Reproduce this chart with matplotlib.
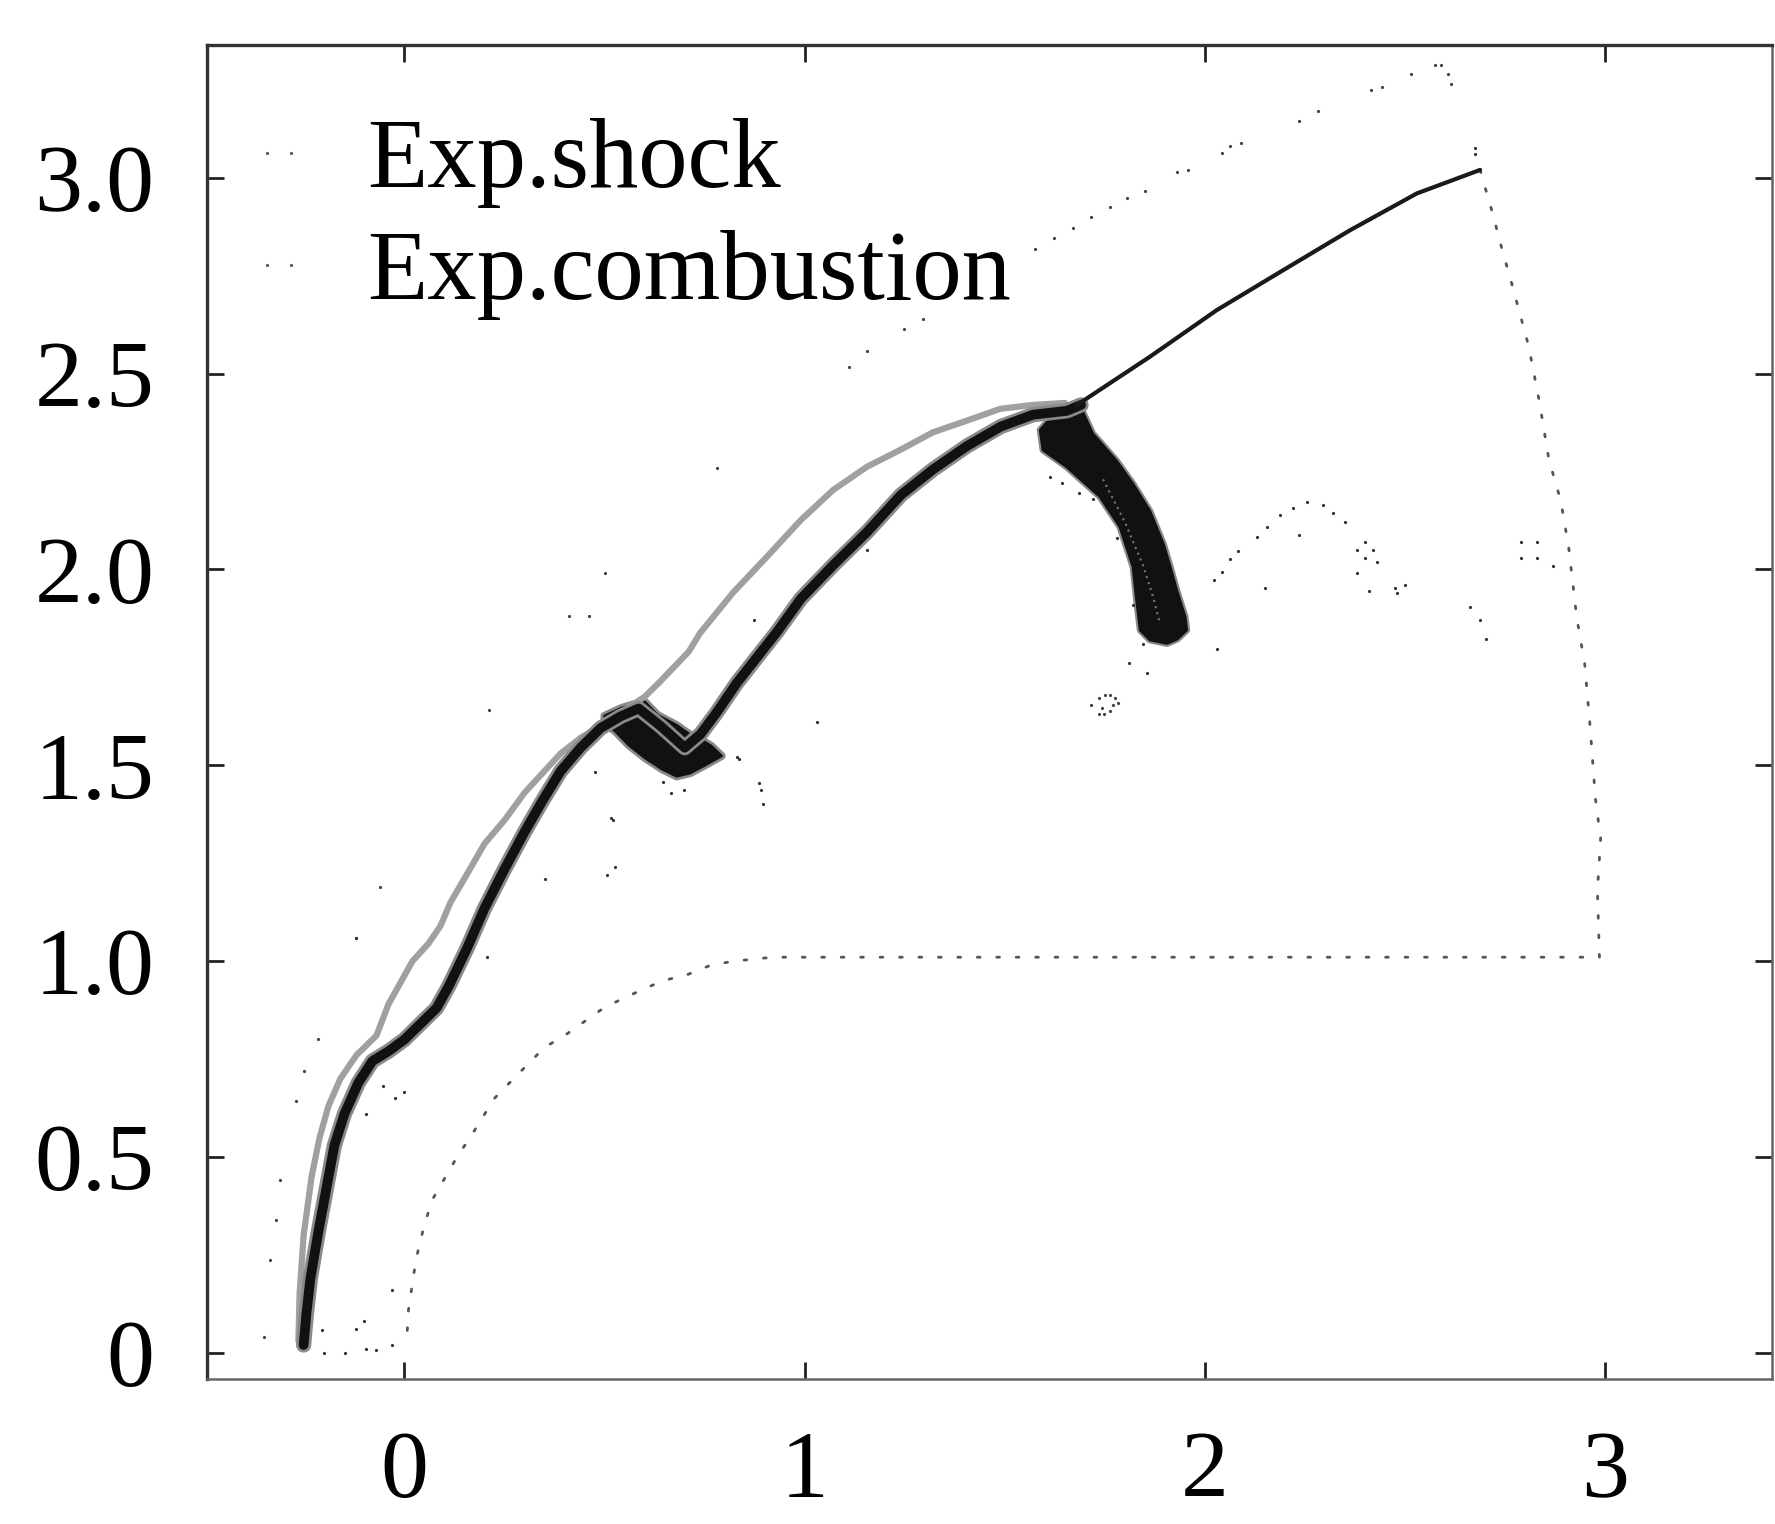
import matplotlib
matplotlib.use("Agg")
import matplotlib.pyplot as plt
from matplotlib.lines import Line2D

# ---------------- data (x, y) ----------------
# main (dark) combustion band, lower-left start to junction with the shock
band_x = [-0.252, -0.245, -0.235, -0.215, -0.195, -0.175, -0.150, -0.115, -0.080, -0.040,
          0.000, 0.040, 0.080, 0.110, 0.155, 0.200, 0.250, 0.300, 0.345, 0.390, 0.440,
          0.490, 0.540, 0.585, 0.640, 0.700, 0.740, 0.780, 0.830, 0.880, 0.930, 0.990,
          1.070, 1.155, 1.240, 1.320, 1.405, 1.490, 1.570, 1.655, 1.690]
band_y = [0.020, 0.100, 0.190, 0.310, 0.420, 0.530, 0.610, 0.690, 0.745, 0.770,
          0.800, 0.840, 0.880, 0.935, 1.030, 1.135, 1.235, 1.330, 1.410, 1.485, 1.545,
          1.595, 1.625, 1.645, 1.600, 1.545, 1.580, 1.635, 1.710, 1.775, 1.840, 1.925,
          2.010, 2.095, 2.190, 2.255, 2.315, 2.365, 2.395, 2.405, 2.420]

# lighter upper strand of the combustion zone
upper_x = [-0.265, -0.262, -0.252, -0.232, -0.212, -0.190, -0.160, -0.120, -0.070, -0.040,
           0.020, 0.060, 0.090, 0.115, 0.155, 0.200, 0.250, 0.300, 0.345, 0.390, 0.440,
           0.490, 0.540, 0.600, 0.635, 0.710, 0.738, 0.820, 0.905, 0.990, 1.071, 1.155,
           1.238, 1.320, 1.405, 1.488, 1.570, 1.650]
upper_y = [0.030, 0.150, 0.300, 0.450, 0.550, 0.630, 0.700, 0.760, 0.810, 0.890,
           1.000, 1.045, 1.090, 1.150, 1.220, 1.300, 1.360, 1.430, 1.480, 1.530, 1.570,
           1.600, 1.635, 1.675, 1.710, 1.790, 1.837, 1.940, 2.032, 2.126, 2.203, 2.262,
           2.305, 2.350, 2.380, 2.410, 2.420, 2.425]

# dense cluster at the first kink
blob_x = [0.500, 0.540, 0.571, 0.600, 0.632, 0.680, 0.713, 0.735, 0.765, 0.792,
          0.750, 0.713, 0.680, 0.644, 0.602, 0.560, 0.526, 0.500]
blob_y = [1.626, 1.645, 1.655, 1.662, 1.628, 1.602, 1.578, 1.568, 1.550, 1.524,
          1.500, 1.480, 1.472, 1.490, 1.518, 1.552, 1.588, 1.606]

# descending combustion arm (outer edge down, inner edge back up)
arm_x = [1.688, 1.719, 1.778, 1.820, 1.862, 1.896, 1.913, 1.929, 1.950, 1.954, 1.930,
         1.905, 1.862, 1.838, 1.829, 1.820, 1.787, 1.737, 1.654, 1.595, 1.588, 1.630]
arm_y = [2.416, 2.347, 2.278, 2.218, 2.149, 2.064, 2.006, 1.947, 1.879, 1.845, 1.822,
         1.811, 1.820, 1.845, 1.920, 2.006, 2.109, 2.186, 2.262, 2.305, 2.356, 2.405]
arm_gap_x = [1.745, 1.800, 1.845, 1.870, 1.885]
arm_gap_y = [2.230, 2.120, 2.010, 1.930, 1.870]

# shock front
shock_x = [1.680, 1.862, 2.029, 2.195, 2.362, 2.529, 2.687]
shock_y = [2.420, 2.543, 2.662, 2.764, 2.866, 2.960, 3.020]

# dotted domain boundary
bound_x = [2.687, 2.700, 2.716, 2.741, 2.768, 2.808, 2.835, 2.859, 2.888, 2.908, 2.928,
           2.948, 2.961, 2.975, 2.988, 2.980, 2.985, 0.920, 0.823, 0.766, 0.708, 0.646,
           0.600, 0.536, 0.490, 0.400, 0.350, 0.263, 0.225, 0.158, 0.137, 0.069, 0.048,
           0.029, 0.010, 0.005]
bound_y = [3.020, 2.973, 2.917, 2.820, 2.722, 2.571, 2.428, 2.279, 2.177, 2.058, 1.879,
           1.760, 1.607, 1.415, 1.313, 1.181, 1.010, 1.010, 1.000, 0.990, 0.966, 0.950,
           0.930, 0.900, 0.875, 0.810, 0.780, 0.690, 0.650, 0.540, 0.510, 0.390, 0.320,
           0.240, 0.110, 0.020]

# sparse outer shock points
outer_x = [-0.350, -0.335, -0.320, -0.310, -0.270, -0.250, -0.215, -0.120, -0.060, 0.210,
           0.410, 0.460, 0.500, 0.780, 1.110, 1.156, 1.249, 1.296, 1.575, 1.623, 1.669,
           1.716, 1.763, 1.804, 1.850, 1.929, 1.956, 2.042, 2.062, 2.089, 2.235, 2.281,
           2.414, 2.441, 2.514, 2.575, 2.589, 2.607, 2.615]
outer_y = [0.040, 0.236, 0.340, 0.440, 0.644, 0.720, 0.800, 1.060, 1.190, 1.640,
           1.880, 1.880, 1.990, 2.258, 2.517, 2.558, 2.613, 2.639, 2.817, 2.845, 2.872,
           2.899, 2.926, 2.948, 2.967, 3.014, 3.021, 3.062, 3.082, 3.089, 3.144, 3.171,
           3.225, 3.232, 3.266, 3.287, 3.287, 3.266, 3.239]

# secondary arc and scattered points to its right
arc_x = [2.021, 2.042, 2.062, 2.081, 2.129, 2.154, 2.187, 2.220, 2.254, 2.295, 2.320,
         2.350, 2.380, 2.400, 2.420, 2.430, 2.400, 2.380, 2.410, 2.475, 2.500, 2.480,
         2.662, 2.687, 2.702, 2.790, 2.830, 2.790, 2.830, 2.870]
arc_y = [1.973, 1.994, 2.026, 2.048, 2.083, 2.109, 2.139, 2.156, 2.173, 2.164, 2.143,
         2.122, 2.050, 2.070, 2.050, 2.020, 2.030, 1.990, 1.945, 1.953, 1.960, 1.940,
         1.905, 1.871, 1.823, 2.070, 2.070, 2.030, 2.030, 2.010]

# small ring of points
ring_x = [1.736, 1.750, 1.762, 1.776, 1.782, 1.769, 1.762, 1.748, 1.736, 1.716, 1.742]
ring_y = [1.673, 1.680, 1.680, 1.673, 1.660, 1.653, 1.639, 1.632, 1.632, 1.653, 1.646]

# isolated scattered points
misc_x = [-0.120, 0.517, 0.526, 0.505, 0.350, 0.206, -0.096, -0.024, -0.002, -0.053,
          -0.206, -0.200, -0.148, -0.120, -0.100, -0.096, -0.070, -0.030, -0.030, 0.885,
          0.890, 0.895, 0.830, 0.647, 0.697, 0.667, 0.520, 0.476, 1.030, 0.835, 1.613,
          1.643, 1.686, 1.720, 1.780, 1.820, 1.810, 1.854, 1.846, 0.872, 1.155, 2.030,
          2.149, 2.235, 2.674, 2.674]
misc_y = [1.060, 1.366, 1.240, 1.220, 1.210, 1.010, 0.610, 0.650, 0.665, 0.680,
          0.057, 0.000, 0.000, 0.060, 0.080, 0.010, 0.006, 0.160, 0.020, 1.455,
          1.437, 1.400, 1.520, 1.458, 1.437, 1.430, 1.360, 1.483, 1.610, 1.516, 2.237,
          2.220, 2.195, 2.180, 2.080, 1.910, 1.760, 1.735, 1.810, 1.870, 2.050, 1.797,
          1.953, 2.088, 3.075, 3.061]

x_ticks = [0, 1, 2, 3]
x_tick_labels = ["0", "1", "2", "3"]
y_ticks = [0, 0.5, 1.0, 1.5, 2.0, 2.5, 3.0]
y_tick_labels = ["0", "0.5", "1.0", "1.5", "2.0", "2.5", "3.0"]
legend_labels = ["Exp.shock", "Exp.combustion"]

# ---------------- figure ----------------
plt.rcParams["font.family"] = ["Liberation Serif", "DejaVu Serif"]
FS = 69

fig = plt.figure(figsize=(17.75, 15.24), dpi=100)
ax = fig.add_axes([0.1166, 0.0951, 0.8817, 0.8754])
ax.set_xlim(-0.4934, 3.416)
ax.set_ylim(-0.067, 3.339)

dot = dict(ls="none", marker="o", ms=2.3, mec="none")

# boundary and sparse points
ax.plot(bound_x, bound_y, color="#555555", lw=2.0, ls=(0, (1, 6)), dash_capstyle="round")
ax.plot(outer_x, outer_y, color="#444444", **dot)
ax.plot(arc_x, arc_y, color="#333333", **dot)
ax.plot(ring_x, ring_y, color="#444444", **dot)
ax.plot(misc_x, misc_y, color="#333333", **dot)

# combustion zone
ax.plot(upper_x, upper_y, color="#a0a0a0", lw=4.5, solid_capstyle="round")
ax.plot(band_x, band_y, color="#8a8a8a", lw=11, solid_joinstyle="round", solid_capstyle="round")
ax.plot(band_x, band_y, color="#111111", lw=7, solid_joinstyle="round", solid_capstyle="round")
ax.fill(blob_x, blob_y, facecolor="#111111", edgecolor="#8a8a8a", lw=6, joinstyle="round")
ax.fill(blob_x, blob_y, facecolor="#111111", edgecolor="#111111", lw=2, joinstyle="round")
ax.fill(arm_x, arm_y, facecolor="#111111", edgecolor="#8a8a8a", lw=5, joinstyle="round")
ax.fill(arm_x, arm_y, facecolor="#111111", edgecolor="#111111", lw=2, joinstyle="round")
ax.plot(arm_gap_x, arm_gap_y, color="#777777", lw=1.5, ls=(0, (1, 2)))

# shock front
ax.plot(shock_x, shock_y, color="#1a1a1a", lw=3.0, solid_capstyle="round")

# axes styling
ax.set_xticks(x_ticks)
ax.set_xticklabels(x_tick_labels)
ax.set_yticks(y_ticks)
ax.set_yticklabels(y_tick_labels)
ax.tick_params(axis="both", direction="in", top=True, right=True,
               length=12, width=2.0, color="#222222", labelsize=FS)
ax.tick_params(axis="x", pad=37)
ax.tick_params(axis="y", pad=38)
for side in ("top", "left"):
    ax.spines[side].set_color("#333333")
    ax.spines[side].set_linewidth(2.4)
for side in ("bottom", "right"):
    ax.spines[side].set_color("#666666")
    ax.spines[side].set_linewidth(1.8)
    ax.spines[side].set_linestyle((0, (2, 1)))

handles = [Line2D([], [], ls="none", marker="o", ms=2.3, color="#555555", mec="none"),
           Line2D([], [], ls="none", marker="o", ms=2.3, color="#555555", mec="none")]
ax.legend(handles, legend_labels, loc="upper left", bbox_to_anchor=(0.035, 0.945),
          frameon=False, fontsize=71, numpoints=2, handlelength=0.35,
          handletextpad=0.72, labelspacing=0.22, borderpad=0.0, borderaxespad=0.0)

fig.savefig("out.png", dpi=100, facecolor="white")
